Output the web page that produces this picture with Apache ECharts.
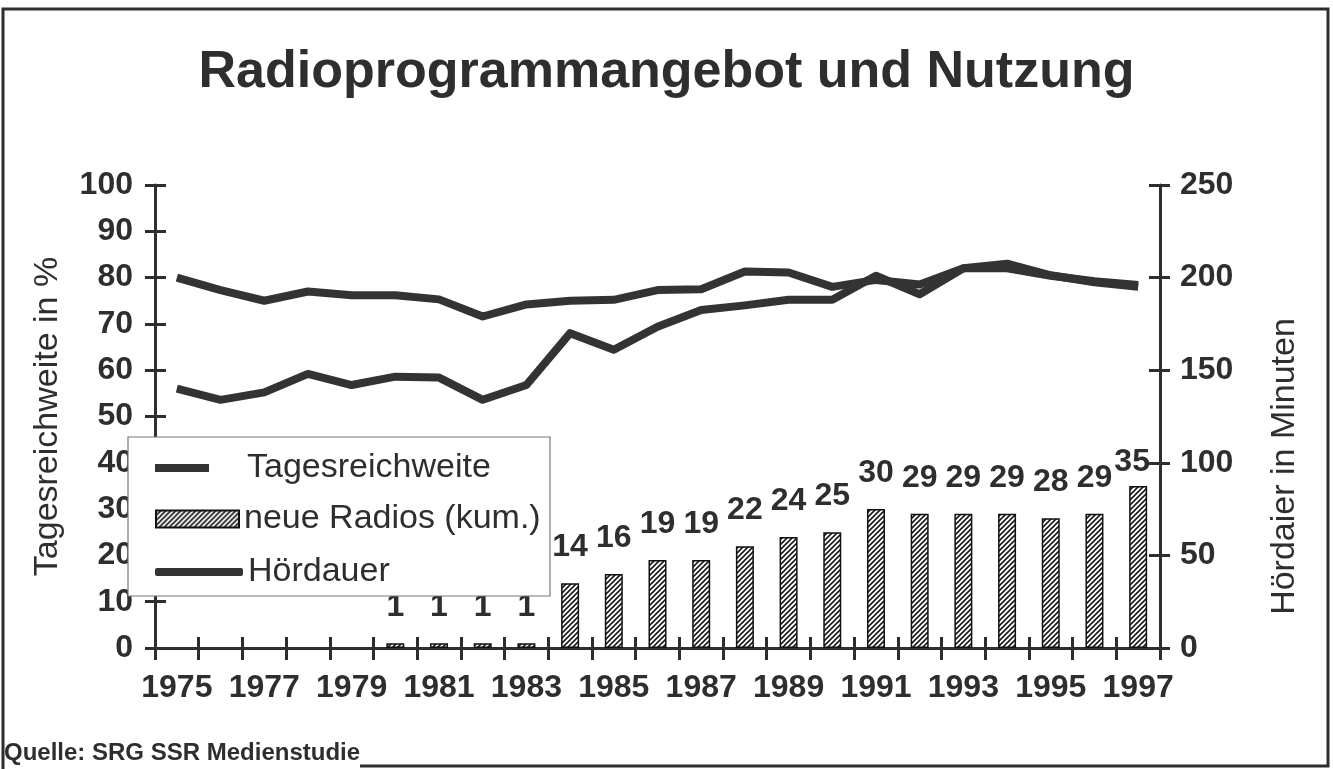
<!DOCTYPE html>
<html>
<head>
<meta charset="utf-8">
<script src="https://cdn.jsdelivr.net/npm/echarts@6/dist/echarts.min.js"></script>
<style>
  html, body { margin: 0; padding: 0; background: #fff; }
  #chart { width: 1333px; height: 769px; }
</style>
</head>
<body>
<div id="chart"></div>
<script>
const years = ['1975', '1976', '1977', '1978', '1979', '1980', '1981', '1982', '1983', '1984', '1985', '1986',
  '1987', '1988', '1989', '1990', '1991', '1992', '1993', '1994', '1995', '1996', '1997']
// Tagesreichweite in % (linke Achse)
const tagesreichweite = [80, 77.3, 75, 77, 76.2, 76.2, 75.3, 71.6, 74.2, 75, 75.2, 77.3,
  77.5, 81.3, 81.1, 78, 79.5, 78.5, 82, 83, 80.5, 79, 78]
// Hördauer in Minuten (rechte Achse)
const hoerdauer = [140, 134, 138, 148, 142, 146.5, 146, 134, 142, 170, 161, 173.5,
  182.5, 185, 188, 188, 201, 191, 205, 205, 201, 198, 196]
// neue Radios (kumuliert)
const neueRadios = [null, null, null, null, null, 1, 1, 1, 1, 14, 16, 19,
  19, 22, 24, 25, 30, 29, 29, 29, 28, 29, 35]
const leftTicks = { min: 0, max: 100, interval: 10 }
const rightTicks = { min: 0, max: 250, interval: 50 }

const ink = '#2e2e2e'
const font = 'Liberation Sans, Arial, sans-serif'

const hatch = () => {
  const c = document.createElement('canvas')
  c.width = 5
  c.height = 5
  const ctx = c.getContext('2d')
  ctx.fillStyle = '#fff'
  ctx.fillRect(0, 0, 5, 5)
  ctx.strokeStyle = '#1a1a1a'
  ctx.lineWidth = 1.6
  ctx.beginPath()
  ctx.moveTo(0, 5); ctx.lineTo(5, 0)
  ctx.moveTo(-1, 1); ctx.lineTo(1, -1)
  ctx.moveTo(4, 6); ctx.lineTo(6, 4)
  ctx.stroke()
  return c
}

const chart = echarts.init(document.getElementById('chart'))

const tickStyle = { color: ink, width: 3 }
const hiddenLine = { show: true, lineStyle: { color: 'rgba(0,0,0,0)', width: 0 } }
const numLabel = { color: ink, fontFamily: font, fontSize: 32, fontWeight: 'bold' }
const gridBox = { left: 155, right: 173, top: 185, bottom: 121 }

const barData = neueRadios.map((v, i) =>
  i === neueRadios.length - 1 ? { value: v, label: { distance: 8, offset: [-6, 0] } } : v)

// a second, identical grid only carries the inner half of each tick mark
const innerTicks = (extra) => ({
  gridIndex: 1,
  axisLine: hiddenLine,
  axisTick: { show: true, inside: true, interval: 0, length: 11, lineStyle: tickStyle },
  axisLabel: { show: false },
  splitLine: { show: false },
  ...extra,
})

chart.setOption({
  animation: false,
  backgroundColor: '#fff',
  textStyle: { fontFamily: font },
  title: {
    text: 'Radioprogrammangebot und Nutzung',
    left: 'center',
    top: 42,
    textStyle: { color: ink, fontFamily: font, fontSize: 52, fontWeight: 'bold' },
  },
  grid: [gridBox, gridBox],
  xAxis: [
    {
      type: 'category',
      data: years,
      position: 'bottom',
      axisLine: { lineStyle: tickStyle },
      axisTick: { show: true, interval: 0, length: 12, lineStyle: tickStyle },
      axisLabel: { ...numLabel, interval: 1, margin: 24 },
      splitLine: { show: false },
    },
    innerTicks({ type: 'category', data: years, position: 'bottom' }),
  ],
  yAxis: [
    {
      type: 'value',
      position: 'left',
      ...leftTicks,
      name: 'Tagesreichweite in %',
      nameLocation: 'middle',
      nameGap: 90,
      nameTextStyle: { color: ink, fontFamily: font, fontSize: 34 },
      axisLine: { show: true, lineStyle: tickStyle },
      axisTick: { show: true, length: 10, lineStyle: tickStyle },
      axisLabel: { ...numLabel, margin: 22 },
      splitLine: { show: false },
    },
    innerTicks({ type: 'value', position: 'left', ...leftTicks }),
    {
      type: 'value',
      position: 'right',
      ...rightTicks,
      name: 'Hördaier in Minuten',
      nameLocation: 'middle',
      nameRotate: 90,
      nameGap: 108,
      nameTextStyle: { color: ink, fontFamily: font, fontSize: 34, padding: [0, 100, 0, 0] },
      axisLine: { show: true, lineStyle: tickStyle },
      axisTick: { show: true, length: 10, lineStyle: tickStyle },
      axisLabel: { ...numLabel, margin: 20 },
      splitLine: { show: false },
    },
    innerTicks({ type: 'value', position: 'right', ...rightTicks }),
  ],
  legend: [
    {
      data: ['Tagesreichweite'],
      left: 150, top: 446,
      icon: 'rect', itemWidth: 54, itemHeight: 8,
      selectedMode: false, z: 20,
      textStyle: { color: ink, fontFamily: font, fontSize: 34, padding: [0, 0, 0, 33] },
    },
    {
      data: ['neue Radios (kum.)'],
      left: 150, top: 497,
      icon: 'rect', itemWidth: 83, itemHeight: 17,
      selectedMode: false, z: 20,
      textStyle: { color: ink, fontFamily: font, fontSize: 34 },
    },
    {
      data: ['Hördauer'],
      left: 150, top: 550,
      icon: 'roundRect', itemWidth: 88, itemHeight: 8,
      selectedMode: false, z: 20,
      textStyle: { color: ink, fontFamily: font, fontSize: 34 },
    },
  ],
  graphic: [
    {
      type: 'rect',
      z: 15,
      shape: { x: 128, y: 437, width: 422, height: 159 },
      style: { fill: '#fff', stroke: '#777', lineWidth: 1.2 },
    },
    {
      type: 'polyline',
      z: 15,
      shape: { points: [[360, 766], [1328, 766], [1328, 9], [3, 9], [3, 769]] },
      style: { fill: null, stroke: ink, lineWidth: 3 },
    },
    {
      type: 'text',
      z: 16,
      left: 4,
      top: 741,
      style: { text: 'Quelle: SRG SSR Medienstudie', fill: ink, font: 'bold 24px ' + font },
    },
  ],
  series: [
    {
      name: 'neue Radios (kum.)',
      type: 'bar',
      data: barData,
      barWidth: 18,
      itemStyle: { color: { image: hatch(), repeat: 'repeat' }, borderColor: '#111', borderWidth: 1.5 },
      label: { show: true, position: 'top', distance: 20, ...numLabel },
      z: 2,
    },
    {
      name: 'Tagesreichweite',
      type: 'line',
      data: tagesreichweite,
      yAxisIndex: 0,
      showSymbol: false,
      symbol: 'none',
      lineStyle: { color: '#333', width: 8, join: 'round' },
      itemStyle: { color: '#333' },
      z: 3,
    },
    {
      name: 'Hördauer',
      type: 'line',
      data: hoerdauer,
      yAxisIndex: 2,
      showSymbol: false,
      symbol: 'none',
      lineStyle: { color: '#333', width: 8, join: 'round' },
      itemStyle: { color: '#333' },
      z: 3,
    },
  ],
})
</script>
</body>
</html>
